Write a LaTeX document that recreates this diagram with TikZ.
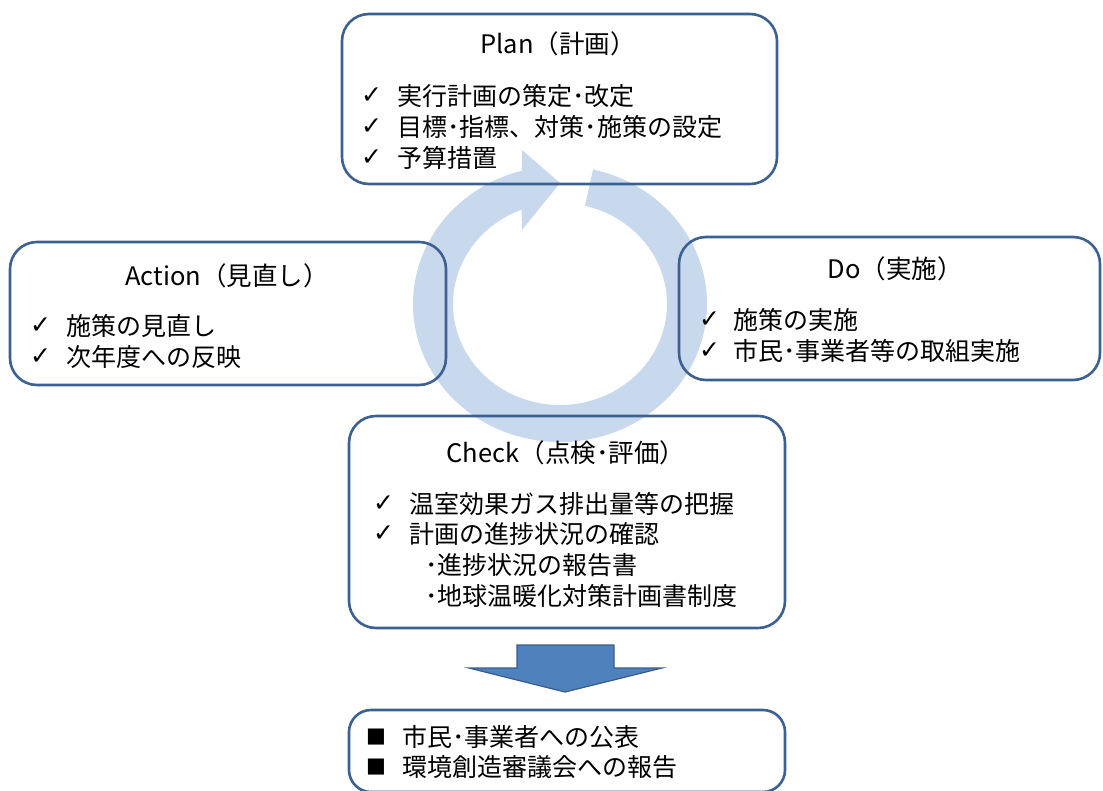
\documentclass[tikz,border=0pt]{standalone}
\usepackage{fontspec}
\setmainfont{Noto Sans CJK JP}
\newfontfamily\symfont{DejaVu Sans}
\usetikzlibrary{calc}
\definecolor{ringblue}{RGB}{200,216,237}
\definecolor{boxline}{RGB}{60,96,146}
\definecolor{arrowfill}{RGB}{79,129,189}
\definecolor{arrowline}{RGB}{56,93,138}
\begin{document}
\begin{tikzpicture}[x=1pt,y=-1pt,
  pdcabox/.style={draw=boxline,line width=2.6pt,rounded corners=27pt,inner sep=0pt},
  txt/.style={anchor=west,inner sep=0pt,font=\fontsize{25}{28}\selectfont},
  ttl/.style={inner sep=0pt,font=\fontsize{25.5}{28}\selectfont},
  chk/.style={anchor=west,inner sep=0pt,font=\symfont\fontsize{25}{28}\selectfont},
  sq/.style={anchor=west,inner sep=0pt,font=\symfont\fontsize{21}{24}\selectfont}]
\useasboundingbox (0,0) rectangle (1103,790);
% cycle ring arrow
\fill[ringblue] ($(560,304)+(-77:147 and 138)$)
  arc[start angle=-77,end angle=255,x radius=147,y radius=138]
  -- (522,150) -- (560,183) -- (522,230)
  -- ($(560,304)+(249:107 and 101)$)
  arc[start angle=249,end angle=-76.5,x radius=107,y radius=101] -- cycle;
% boxes
\node[pdcabox,minimum width=435pt,minimum height=170pt] (plan) at (559.5,99) {};
\node[pdcabox,minimum width=436pt,minimum height=143pt] (action) at (228,313.5) {};
\node[pdcabox,minimum width=421pt,minimum height=143pt] (do) at (889.5,308.5) {};
\node[pdcabox,minimum width=436pt,minimum height=212pt] (check) at (567,522) {};
\node[pdcabox,minimum width=436pt,minimum height=82pt,rounded corners=22pt] (report) at (567,751) {};
% down arrow
\filldraw[fill=arrowfill,draw=arrowline,line width=1.2pt]
  (517,645) -- (614,645) -- (614,668) -- (662,668) -- (565,692) -- (469,668) -- (517,668) -- cycle;
% Plan
\node[ttl] (plantitle) at (558,44) {Plan（計画）};
\node[chk] (pc1) at (361,96) {✓};
\node[txt] (p1) at (397,96) {実行計画の策定･改定};
\node[chk] (pc2) at (361,127) {✓};
\node[txt] (p2) at (397,127) {目標･指標、対策･施策の設定};
\node[chk] (pc3) at (361,158) {✓};
\node[txt] (p3) at (397,158) {予算措置};
% Action
\node[ttl] (actiontitle) at (227,276) {Action（見直し）};
\node[chk] (ac1) at (30,326) {✓};
\node[txt] (a1) at (66,326) {施策の見直し};
\node[chk] (ac2) at (30,357) {✓};
\node[txt] (a2) at (66,357) {次年度への反映};
% Do
\node[ttl] (dotitle) at (895,269) {Do（実施）};
\node[chk] (dc1) at (699,320) {✓};
\node[txt] (d1) at (733,320) {施策の実施};
\node[chk] (dc2) at (699,351) {✓};
\node[txt] (d2) at (733,351) {市民･事業者等の取組実施};
% Check
\node[ttl] (checktitle) at (566,453) {Check（点検･評価）};
\node[chk] (cc1) at (373,504) {✓};
\node[txt] (c1) at (409,504) {温室効果ガス排出量等の把握};
\node[chk] (cc2) at (373,534) {✓};
\node[txt] (c2) at (409,534) {計画の進捗状況の確認};
\node[txt] (c3) at (425,565) {･進捗状況の報告書};
\node[txt] (c4) at (425,596) {･地球温暖化対策計画書制度};
% Report
\node[sq] (rs1) at (366,737) {■};
\node[txt] (r1) at (402,737) {市民･事業者への公表};
\node[sq] (rs2) at (366,767) {■};
\node[txt] (r2) at (402,767) {環境創造審議会への報告};
\end{tikzpicture}
\end{document}
